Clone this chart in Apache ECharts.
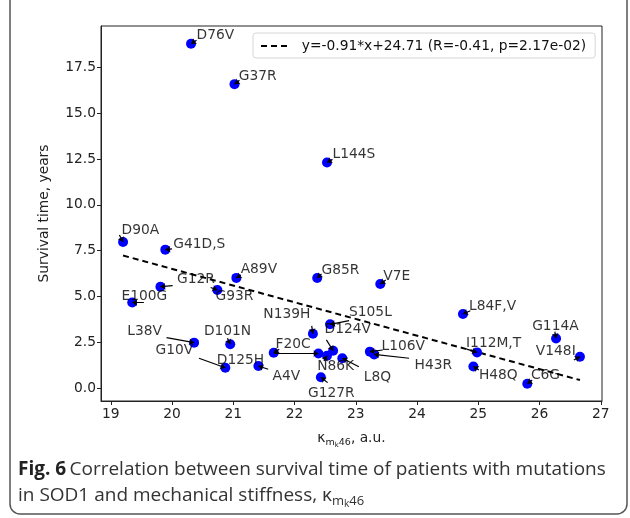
<!DOCTYPE html>
<html><head><meta charset="utf-8">
<script src="https://cdn.jsdelivr.net/npm/echarts@6/dist/echarts.min.js"></script>
<style>html,body{margin:0;padding:0;background:#fff}#c{width:630px;height:518px}</style>
</head><body><div id="c"></div>
<script>
// ---- data ----
const mutations = ['D76V','G37R','L144S','D90A','G41D,S','A89V','G85R','V7E','G12R','G93R','E100G','L84F,V','N139H','S105L','G114A','L38V','D101N','I112M,T','V148I','F20C','D125H','N86K','D124V','L8Q','L106V','H43R','G10V','A4V','H48Q','G127R','C6G'];
const kappa = [20.31,21.02,22.53,19.20,19.89,21.05,22.37,23.40,19.81,20.74,19.35,24.75,22.30,22.58,26.27,20.36,20.95,24.98,26.66,21.66,22.39,22.53,22.63,22.78,23.23,23.30,20.87,21.41,24.92,22.43,25.80];
const survival = [18.78,16.58,12.31,7.98,7.56,6.02,6.01,5.69,5.54,5.36,4.68,4.05,2.98,3.49,2.72,2.49,2.40,1.96,1.72,1.94,1.90,1.78,2.05,1.64,2.00,1.85,1.12,1.22,1.19,0.60,0.25];
const fitX = [19.20, 26.66];
const fitY = [7.24, 0.45];
const fitLabel = 'y=-0.91*x+24.71 (R=-0.41, p=2.17e-02)';
const xTicks = [19,20,21,22,23,24,25,26,27];
const yTicks = [0,2.5,5,7.5,10,12.5,15,17.5];

// ---- annotation layout (text anchor and arrow tail, in data units, like xytext) ----
const labelX = [20.40,21.09,22.62,19.175,20.02,21.12,22.44,23.45,20.08,20.71,19.175,24.85,21.49,22.89,25.88,19.27,20.52,24.80,25.94,21.69,20.73,22.37,22.49,23.13,23.42,23.96,19.73,21.64,25.01,22.22,25.86];
const labelY = [19.22,17.00,12.73,8.59,7.86,6.47,6.45,6.09,5.93,4.99,5.02,4.49,4.04,4.13,3.40,3.13,3.13,2.46,2.00,2.37,1.53,1.22,3.19,0.62,2.31,1.26,2.08,0.64,0.68,-0.29,0.68];
const tailX = [20.40,21.10,22.62,19.14,20.00,21.12,22.44,23.49,20.01,20.63,19.54,24.87,22.28,22.89,26.25,19.91,20.905,24.81,26.56,21.75,21.67,22.48,22.52,23.05,23.44,23.87,20.44,21.57,25.01,22.54,25.88];
const tailY = [18.97,16.79,12.48,8.36,7.60,6.17,6.24,5.91,5.60,5.50,4.67,4.23,3.40,3.69,3.09,2.76,2.73,2.14,1.54,2.13,1.90,1.49,2.64,1.18,2.09,1.64,1.64,1.04,1.00,0.31,0.45];

const FONT = 'DejaVu Sans';
const FS = 13.8;
const chart = echarts.init(document.getElementById('c'), null, {renderer:'canvas'});

const points = kappa.map((x,i)=>[x, survival[i], mutations[i]]);
const labels = labelX.map((x,i)=>[x, labelY[i], mutations[i]]);
const arrows = kappa.map((x,i)=>({coords:[[tailX[i],tailY[i]],[x,survival[i]]]}));
const fitLine = fitX.map((x,i)=>[x, fitY[i]]);

const axisCommon = {
  axisLine:{show:true, onZero:false, lineStyle:{color:'#222', width:1}},
  axisTick:{show:true, inside:false, length:4, lineStyle:{color:'#222', width:1}},
  splitLine:{show:false},
};

chart.setOption({
  animation:false,
  backgroundColor:'#fff',
  grid:{left:101, top:26, right:28, bottom:117, show:true, borderColor:'#222', borderWidth:1, backgroundColor:'transparent'},
  legend:{
    data:[fitLabel], left:253, top:33,
    backgroundColor:'#fff', borderColor:'#d6d6d6', borderWidth:1, borderRadius:3,
    padding:[6,9,5,7], itemWidth:27, itemHeight:14,
    itemStyle:{opacity:0},
    formatter: n => '  ' + n,
    textStyle:{fontFamily:FONT, fontSize:FS, color:'#111'}
  },
  xAxis:{
    type:'value', min:18.84, max:27.02,
    ...axisCommon,
    axisTick:{...axisCommon.axisTick, customValues:xTicks},
    axisLabel:{customValues:xTicks, fontFamily:FONT, fontSize:FS, color:'#222', margin:6},
    name:'{k|κ}{m|m}{s|k}{m|46}{n|, a.u.}',
    nameLocation:'middle', nameGap:30,
    nameTextStyle:{rich:{
      k:{fontFamily:FONT, fontSize:FS, color:'#222', verticalAlign:'bottom', padding:[0,0,4,0]},
      m:{fontFamily:FONT, fontSize:9.5, color:'#222', verticalAlign:'bottom', padding:[0,0,1,0]},
      s:{fontFamily:FONT, fontSize:7, color:'#222', verticalAlign:'bottom', padding:[0,0,0,0]},
      n:{fontFamily:FONT, fontSize:FS, color:'#222', verticalAlign:'bottom', padding:[0,0,4,0]}
    }}
  },
  yAxis:{
    type:'value', min:-0.69, max:19.75,
    ...axisCommon,
    axisTick:{...axisCommon.axisTick, customValues:yTicks},
    axisLabel:{customValues:yTicks, formatter:v=>v.toFixed(1), fontFamily:FONT, fontSize:FS, color:'#222', margin:5},
    name:'Survival time, years', nameLocation:'middle', nameGap:50, nameRotate:90,
    nameTextStyle:{fontFamily:FONT, fontSize:FS, color:'#222'}
  },
  series:[
    {
      name:fitLabel, type:'line', data:fitLine, symbol:'none',
      lineStyle:{color:'#000', width:2, type:[6,4]}, z:2
    },
    {
      name:'points', type:'scatter', data:points, symbol:'circle', symbolSize:10,
      itemStyle:{color:'#0000ff', opacity:1}, z:3
    },
    {
      name:'arrows', type:'lines', coordinateSystem:'cartesian2d', data:arrows,
      symbol:['none','arrow'], symbolSize:5,
      lineStyle:{color:'#000', width:1.2, opacity:1, curveness:0}, z:4, silent:true
    },
    {
      name:'labels', type:'scatter', data:labels, symbolSize:0.01, silent:true,
      itemStyle:{color:'transparent'},
      label:{show:true, position:'right', distance:0, formatter:p=>p.value[2],
        fontFamily:FONT, fontSize:FS, color:'#000'}, z:5
    }
  ],
  graphic:[
    {type:'rect', shape:{x:10, y:-12, width:617, height:526, r:10}, style:{fill:'none', stroke:'#555', lineWidth:1.5}, silent:true},
    {type:'text', left:18, top:460, style:{
      text:'{b|Fig. 6} {r|Correlation between survival time of patients with mutations}',
      rich:{
        b:{fontFamily:'Open Sans', fontWeight:'bold', fontSize:19, fill:'#222'},
        r:{fontFamily:'Open Sans', fontSize:19, fill:'#333'}
      }}},
    {type:'text', left:18, top:486, style:{
      text:'{r|in SOD1 and mechanical stiffness, }{k|κ}{m|m}{s|k}{m|46}',
      rich:{
        r:{fontFamily:'Open Sans', fontSize:19, fill:'#333', verticalAlign:'bottom', padding:[0,0,4,0]},
        k:{fontFamily:'Open Sans', fontSize:19, fill:'#333', verticalAlign:'bottom', padding:[0,0,4,0]},
        m:{fontFamily:'Open Sans', fontSize:13, fill:'#333', verticalAlign:'bottom', padding:[0,0,1,0]},
        s:{fontFamily:'Open Sans', fontSize:10, fill:'#333', verticalAlign:'bottom'}
      }}}
  ]
});
</script></body></html>
